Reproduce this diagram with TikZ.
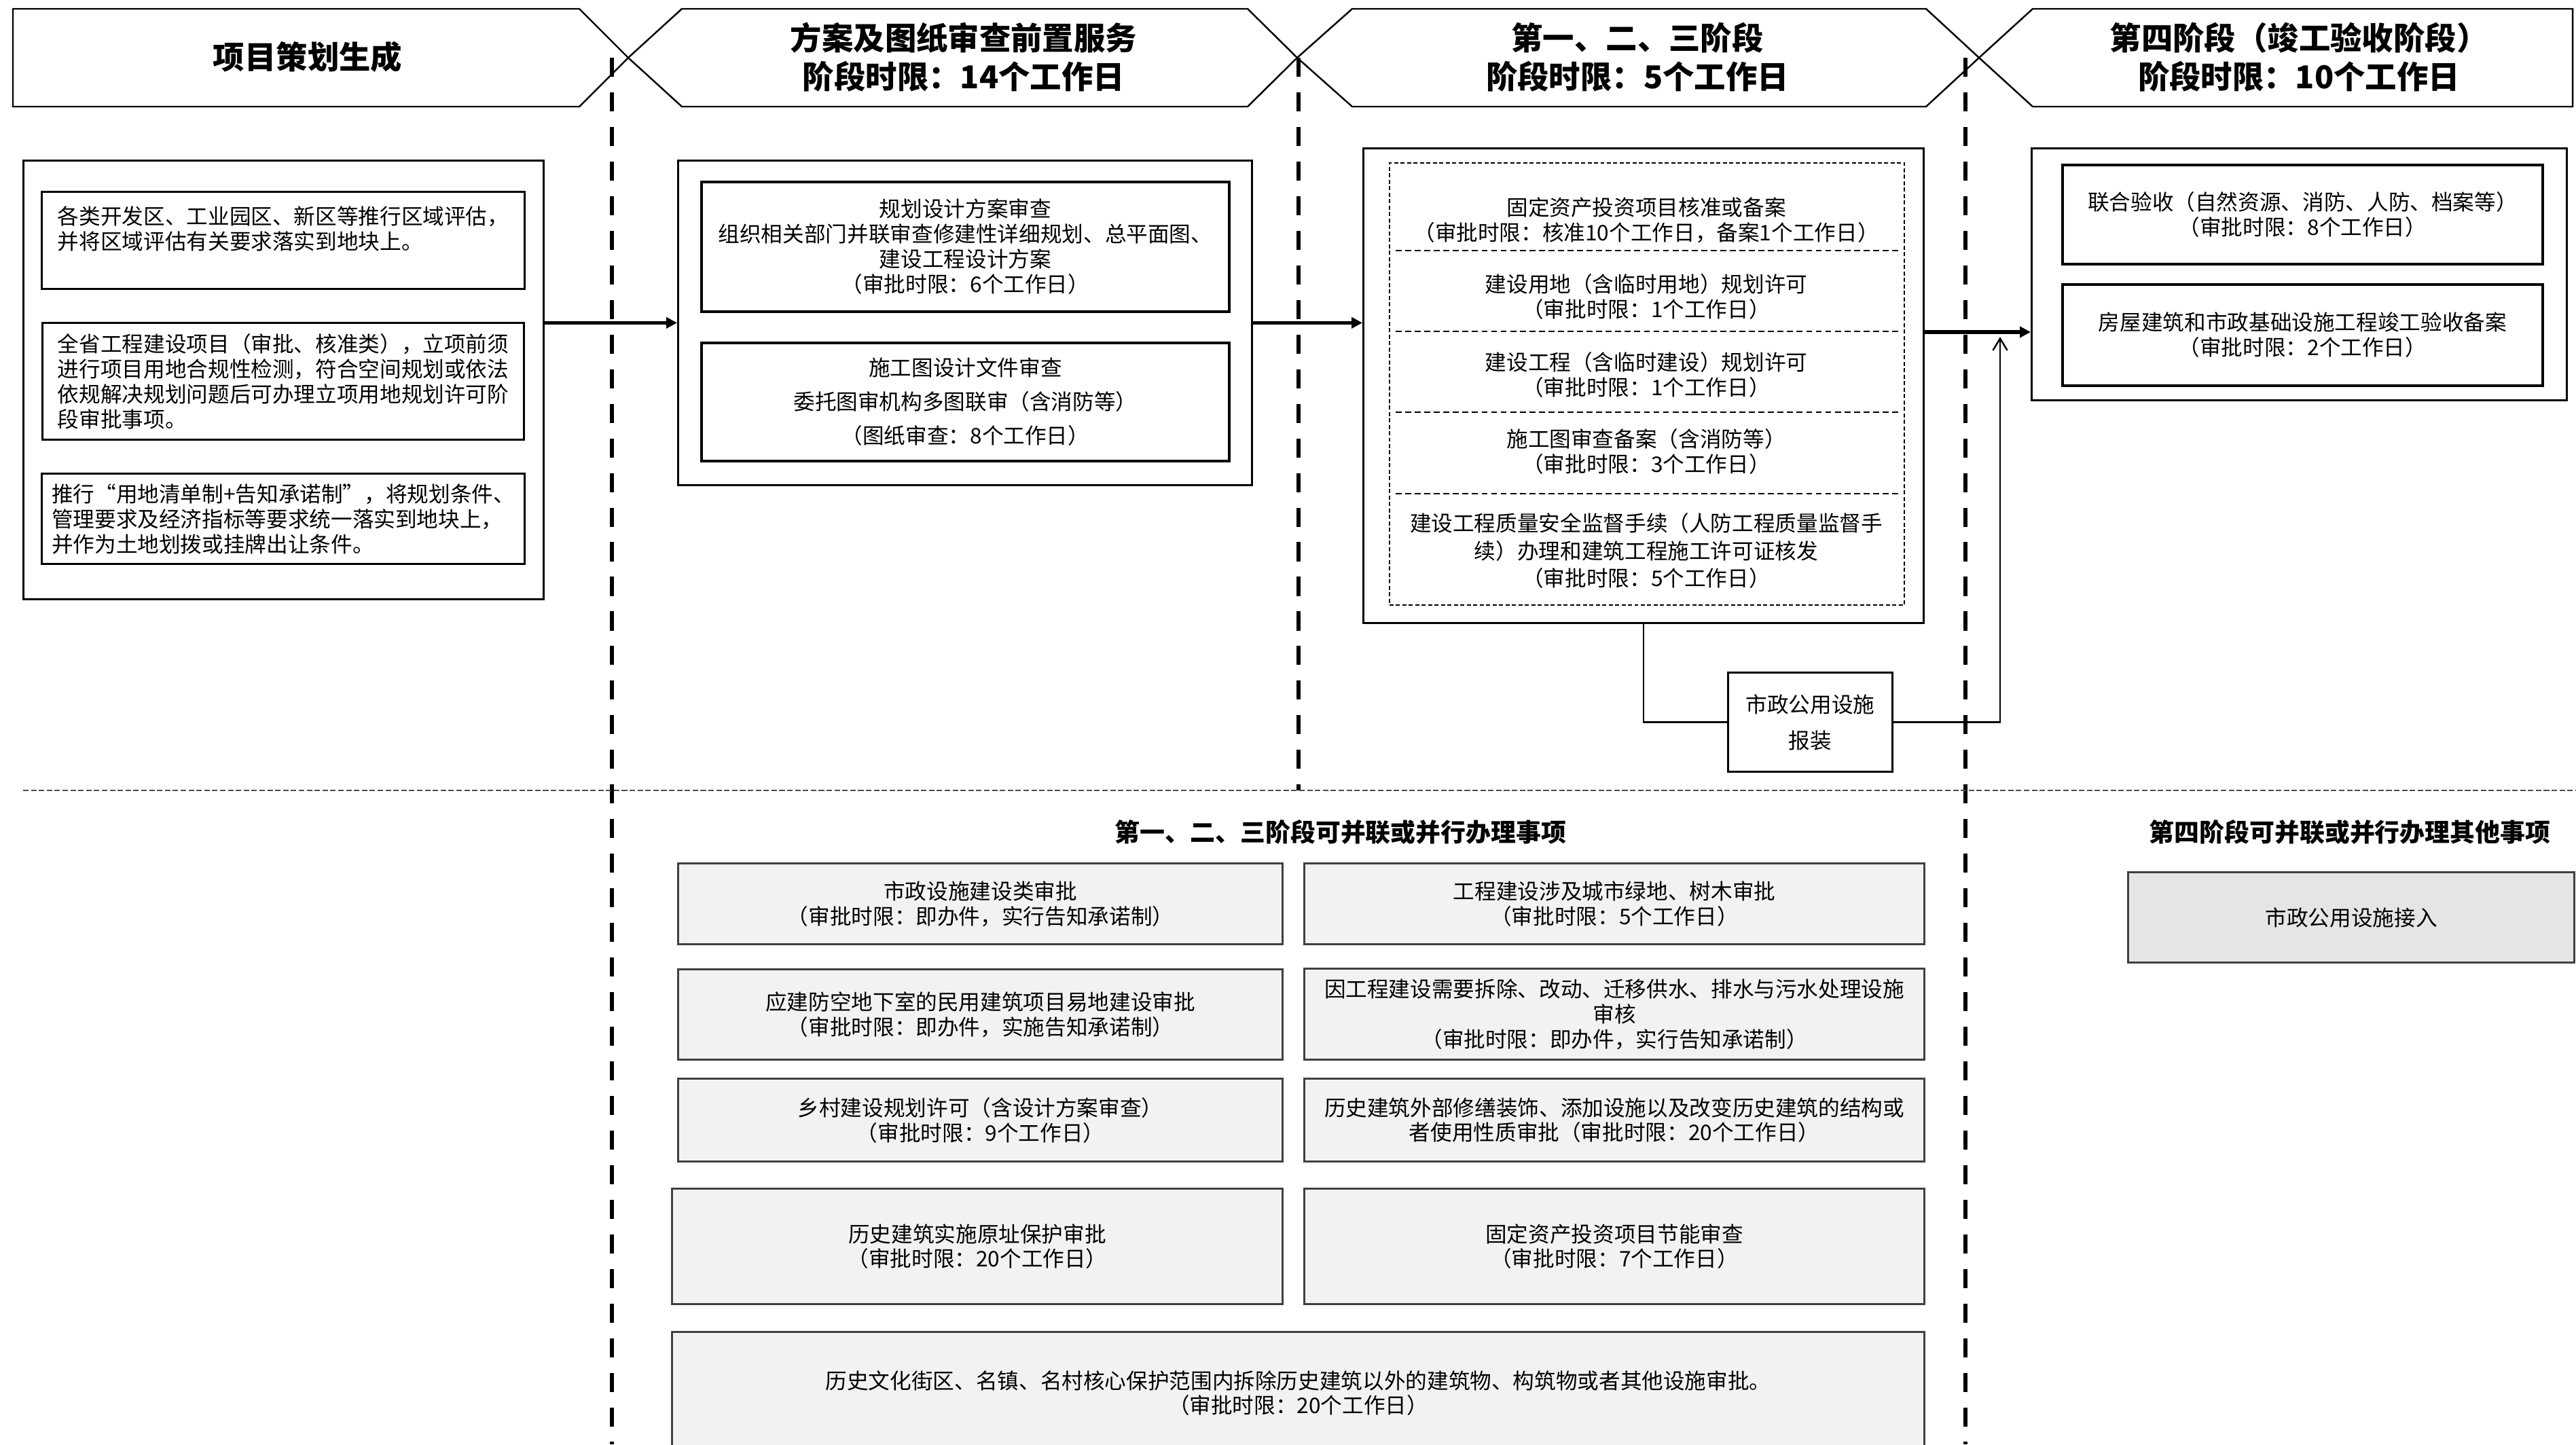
\documentclass[tikz,border=0pt]{standalone}
\usepackage{fontspec}
\setmainfont{Noto Sans CJK SC}
\usetikzlibrary{arrows.meta}

\tikzset{
  stagebox/.style={line width=0.7pt},
  headtext/.style={font=\fontsize{13.2}{16.2}\selectfont\bfseries, align=center, inner sep=0pt},
  grouptitle/.style={font=\fontsize{10.5}{12}\selectfont\bfseries, inner sep=0pt},
  outerbox/.style={draw, line width=0.8pt, inner sep=0pt, anchor=north west},
  itembox/.style={draw, line width=0.9pt, inner sep=0pt, anchor=north west, align=center, font=\fontsize{9}{10.5}\selectfont},
  notebox/.style={itembox, align=left},
  parbox/.style={itembox, draw=black!75, fill=black!5},
  secttext/.style={align=center, font=\fontsize{9}{10.5}\selectfont, inner sep=0pt},
  cut/.style={line width=0.6pt, dash pattern=on 2.5pt off 1.5pt},
  phase/.style={line width=1.7pt, dash pattern=on 8pt off 6.5pt},
  split/.style={draw=black!70, line width=0.6pt, dash pattern=on 2.3pt off 1pt},
  flow/.style={line width=1.5pt, -{Triangle[length=4.5pt,width=4.5pt]}},
  feed/.style={line width=0.7pt}
}

\begin{document}
\begin{tikzpicture}[y=-1cm]
\useasboundingbox (0,0) rectangle (37.93,21.27);

% stage headers
\draw[stagebox] (0.19,0.13)--(8.53,0.13)--(9.25,0.85)--(8.53,1.57)--(0.19,1.57)--cycle;
\draw[stagebox] (9.25,0.85)--(10.04,0.13)--(18.37,0.13)--(19.10,0.85)--(18.37,1.57)--(10.04,1.57)--cycle;
\draw[stagebox] (19.10,0.85)--(19.91,0.13)--(28.36,0.13)--(29.14,0.85)--(28.36,1.57)--(19.91,1.57)--cycle;
\draw[stagebox] (29.14,0.85)--(29.93,0.13)--(37.88,0.13)--(37.88,1.57)--(29.93,1.57)--cycle;
\node[headtext] (hA) at (4.53,0.84) {项目策划生成};
\node[headtext] (hB) at (14.19,0.84) {方案及图纸审查前置服务\\阶段时限：14个工作日};
\node[headtext] (hC) at (24.11,0.84) {第一、二、三阶段\\阶段时限：5个工作日};
\node[headtext] (hD) at (33.85,0.84) {第四阶段（竣工验收阶段）\\阶段时限：10个工作日};

% dividers
\draw[phase] (9.01,0.85)--(9.01,21.27);
\draw[phase] (19.12,0.85)--(19.12,11.64);
\draw[phase] (28.94,0.85)--(28.94,21.27);
\draw[split] (0.34,11.64)--(37.93,11.64);

% project planning
\node[outerbox, minimum width=7.66cm, minimum height=6.46cm] (pre) at (0.33,2.35) {};
\node[notebox, minimum width=7.11cm, minimum height=1.43cm] (preA) at (0.60,2.81)
  {各类开发区、工业园区、新区等推行区域评估，\\并将区域评估有关要求落实到地块上。\\ \mbox{}};
\node[notebox, minimum width=7.09cm, minimum height=1.72cm] (preB) at (0.61,4.74)
  {全省工程建设项目（审批、核准类），立项前须\\进行项目用地合规性检测，符合空间规划或依法\\依规解决规划问题后可办理立项用地规划许可阶\\段审批事项。};
\node[notebox, minimum width=7.11cm, minimum height=1.33cm] (preC) at (0.60,6.96)
  {推行“用地清单制+告知承诺制”，将规划条件、\\管理要求及经济指标等要求统一落实到地块上，\\并作为土地划拨或挂牌出让条件。};

% pre-review services
\node[outerbox, minimum width=8.45cm, minimum height=4.78cm] (pre2) at (9.97,2.35) {};
\node[itembox, line width=1.1pt, minimum width=7.77cm, minimum height=1.91cm] (planA) at (10.31,2.66)
  {规划设计方案审查\\组织相关部门并联审查修建性详细规划、总平面图、\\建设工程设计方案\\（审批时限：6个工作日）};
\node[itembox, line width=1.1pt, minimum width=7.77cm, minimum height=1.74cm] (planB) at (10.31,5.03)
  {施工图设计文件审查\\[3.7pt]委托图审机构多图联审（含消防等）\\[3.7pt]（图纸审查：8个工作日）};

% stages one to three
\node[outerbox, minimum width=8.25cm, minimum height=6.99cm] (st3) at (20.06,2.17) {};
\node[outerbox, line width=0.5pt, dash pattern=on 1.7pt off 1pt, minimum width=7.58cm, minimum height=6.51cm] (st3in) at (20.45,2.39) {};
\foreach \y in {3.69,4.88,6.07,7.27}
  \draw[cut] (20.55,\y) -- (27.95,\y);
\node[secttext] (sA) at (24.24,3.24) {固定资产投资项目核准或备案\\（审批时限：核准10个工作日，备案1个工作日）};
\node[secttext] (sB) at (24.24,4.37) {建设用地（含临时用地）规划许可\\（审批时限：1个工作日）};
\node[secttext] (sC) at (24.24,5.52) {建设工程（含临时建设）规划许可\\（审批时限：1个工作日）};
\node[secttext] (sD) at (24.24,6.65) {施工图审查备案（含消防等）\\（审批时限：3个工作日）};
\node[secttext] (sE) at (24.24,8.11) {建设工程质量安全监督手续（人防工程质量监督手\\[1.1pt]续）办理和建筑工程施工许可证核发\\[1.1pt]（审批时限：5个工作日）};

% stage four
\node[outerbox, minimum width=7.88cm, minimum height=3.71cm] (st4) at (29.90,2.17) {};
\node[itembox, line width=1.1pt, minimum width=7.07cm, minimum height=1.46cm] (accA) at (30.35,2.41)
  {联合验收（自然资源、消防、人防、档案等）\\（审批时限：8个工作日）};
\node[itembox, line width=1.1pt, minimum width=7.07cm, minimum height=1.49cm] (accB) at (30.35,4.17)
  {房屋建筑和市政基础设施工程竣工验收备案\\（审批时限：2个工作日）};

\node[itembox, minimum width=2.42cm, minimum height=1.46cm] (util) at (25.43,9.89) {市政公用设施\\[4.5pt]报装};

% connectors
\coordinate (link) at (29.45,4.89);
\coordinate (linkup) at (29.45,4.96);
\draw[flow] (pre.east |- pre2.west) -- (pre2.west);
\draw[flow] (pre2.east) -- (pre2.east -| st3.west);
\draw[flow] (st3.east |- link) -- (st4.west |- link);
\draw[feed] (st3.south) |- (util.west);
\draw[feed, -{Straight Barb[length=5pt,width=6pt]}] (util.east) -| (linkup);

% parallel items
\node[grouptitle] (parT) at (19.74,12.25) {第一、二、三阶段可并联或并行办理事项};
\node[grouptitle] (accT) at (34.60,12.25) {第四阶段可并联或并行办理其他事项};
\node[parbox, minimum width=8.90cm, minimum height=1.19cm] (r1l) at (9.97,12.70)
  {市政设施建设类审批\\（审批时限：即办件，实行告知承诺制）};
\node[parbox, minimum width=9.13cm, minimum height=1.19cm] (r1r) at (19.19,12.70)
  {工程建设涉及城市绿地、树木审批\\（审批时限：5个工作日）};
\node[parbox, minimum width=8.90cm, minimum height=1.33cm] (r2l) at (9.97,14.26)
  {应建防空地下室的民用建筑项目易地建设审批\\（审批时限：即办件，实施告知承诺制）};
\node[parbox, minimum width=9.13cm, minimum height=1.34cm] (r2r) at (19.19,14.25)
  {因工程建设需要拆除、改动、迁移供水、排水与污水处理设施\\审核\\（审批时限：即办件，实行告知承诺制）};
\node[parbox, minimum width=8.90cm, minimum height=1.22cm] (r3l) at (9.97,15.87)
  {乡村建设规划许可（含设计方案审查）\\（审批时限：9个工作日）};
\node[parbox, minimum width=9.13cm, minimum height=1.22cm] (r3r) at (19.19,15.87)
  {历史建筑外部修缮装饰、添加设施以及改变历史建筑的结构或\\者使用性质审批（审批时限：20个工作日）};
\node[parbox, minimum width=8.99cm, minimum height=1.70cm] (r4l) at (9.88,17.49)
  {历史建筑实施原址保护审批\\（审批时限：20个工作日）};
\node[parbox, minimum width=9.13cm, minimum height=1.70cm] (r4r) at (19.19,17.49)
  {固定资产投资项目节能审查\\（审批时限：7个工作日）};
\node[parbox, minimum width=18.44cm, minimum height=1.80cm] (r5) at (9.88,19.60)
  {历史文化街区、名镇、名村核心保护范围内拆除历史建筑以外的建筑物、构筑物或者其他设施审批。\\（审批时限：20个工作日）};
\node[parbox, fill=black!10, minimum width=6.57cm, minimum height=1.33cm] (join) at (31.32,12.83) {市政公用设施接入};
\end{tikzpicture}
\end{document}
